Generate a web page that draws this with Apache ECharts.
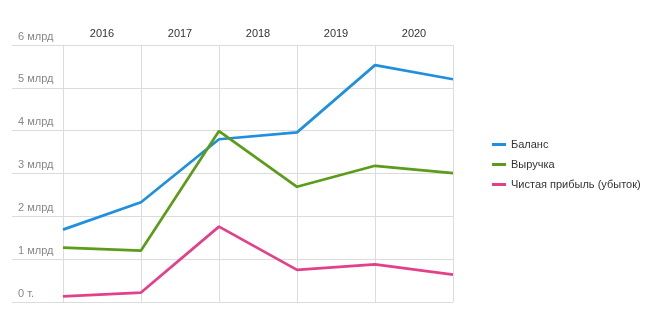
<!DOCTYPE html>
<html><head><meta charset="utf-8">
<script src="https://cdn.jsdelivr.net/npm/echarts@6/dist/echarts.min.js"></script>
<style>html,body{margin:0;padding:0;background:#fff}#c{width:650px;height:323px}</style>
</head><body><div id="c"></div>
<script>
var years = ['2016', '2017', '2018', '2019', '2020'];
var pointCats = ['p0', 'p1', 'p2', 'p3', 'p4', 'p5'];
var yTicks = [0, 1, 2, 3, 4, 5, 6];
var balance = [1.69, 2.33, 3.80, 3.96, 5.53, 5.20];
var revenue = [1.27, 1.20, 3.99, 2.69, 3.18, 3.01];
var profit = [0.13, 0.22, 1.76, 0.75, 0.88, 0.64];
var names = ['Баланс', 'Выручка', 'Чистая прибыль (убыток)'];
var colors = ['#2090de', '#5b9c1a', '#e3408a'];
var FONT = 'Liberation Sans, Helvetica, Arial, sans-serif';
var chart = echarts.init(document.getElementById('c'));
function mk(i, d) {
  return {name: names[i], type: 'line', xAxisIndex: 0, data: d, symbol: 'none',
    lineStyle: {width: 2.7, color: colors[i]}, itemStyle: {color: colors[i]}};
}
chart.setOption({
  animation: false,
  textStyle: {fontFamily: FONT},
  grid: {left: 63, right: 197, top: 45, bottom: 21},
  legend: {orient: 'vertical', left: 487, top: 134, icon: 'rect', itemWidth: 14, itemHeight: 3,
    itemGap: 9, itemTextGap: 9, textStyle: {fontFamily: FONT, fontSize: 11, color: '#333'},
    data: names},
  xAxis: [{
    type: 'category', data: pointCats, boundaryGap: false, position: 'top',
    axisLine: {show: false}, axisLabel: {show: false},
    axisTick: {show: true, length: 15, lineStyle: {color: '#dcdcdc'}},
    splitLine: {show: true, lineStyle: {color: '#dcdcdc', width: 1}}
  }, {
    type: 'category', data: years, boundaryGap: true, position: 'top',
    axisLine: {show: false}, axisTick: {show: false},
    axisLabel: {margin: 6, fontSize: 11, color: '#333', fontFamily: FONT}
  }],
  yAxis: {
    type: 'value', min: 0, max: 6, interval: 1,
    axisLine: {show: true, lineStyle: {color: '#dcdcdc'}},
    axisTick: {show: true, length: 51, lineStyle: {color: '#dcdcdc'}},
    splitLine: {show: true, lineStyle: {color: '#dcdcdc'}},
    axisLabel: {margin: 45, align: 'left', verticalAlign: 'bottom', padding: [0, 0, 3, 0],
      fontSize: 11, color: '#888', fontFamily: FONT,
      formatter: function (v) { return v === 0 ? '0 т.' : v + ' млрд'; }}
  },
  series: [mk(0, balance), mk(1, revenue), mk(2, profit)]
});
</script></body></html>
